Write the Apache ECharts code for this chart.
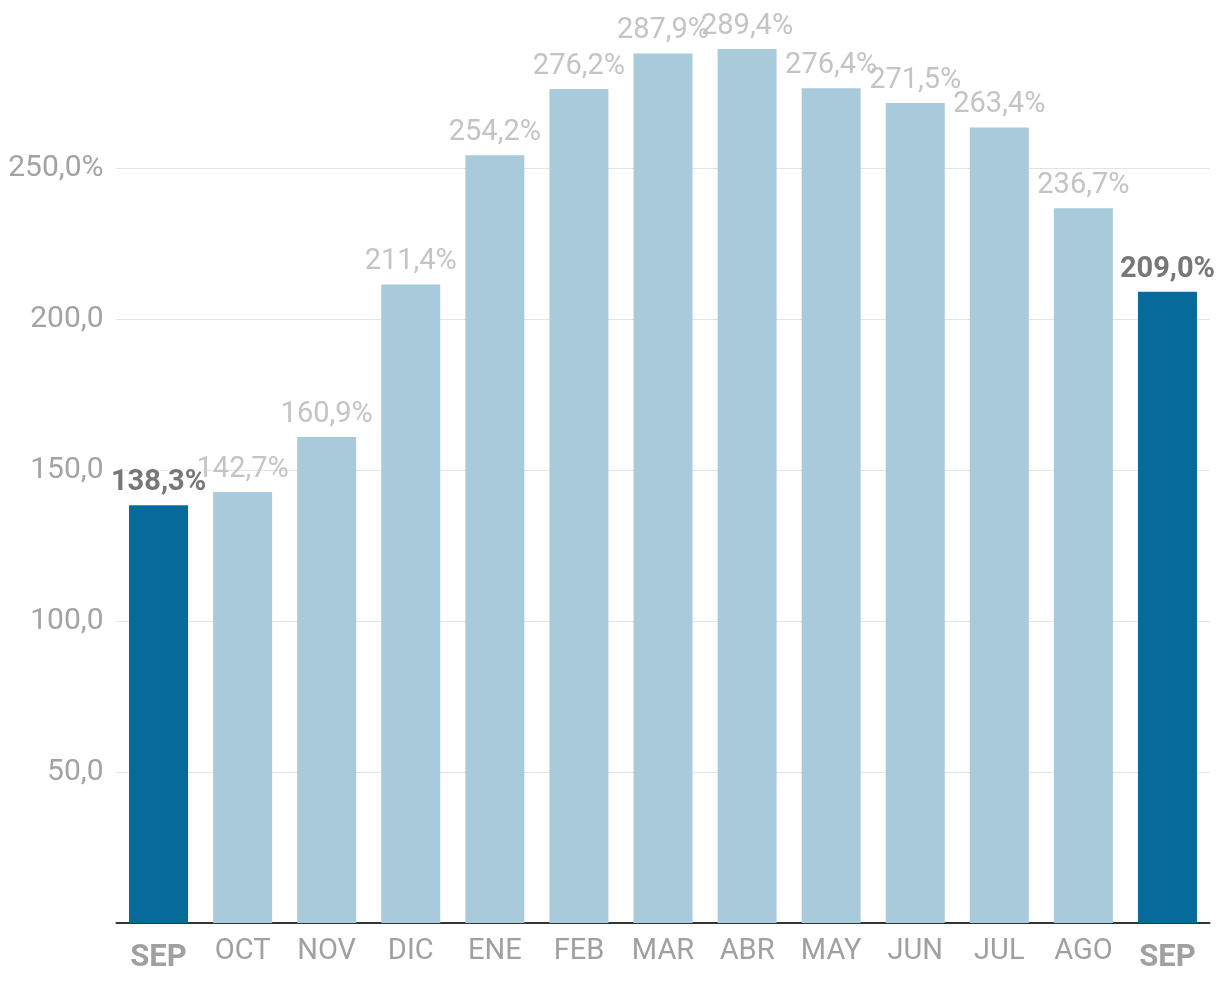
<!DOCTYPE html>
<html>
<head>
<meta charset="utf-8">
<script src="https://cdn.jsdelivr.net/npm/echarts@6/dist/echarts.min.js"></script>
<style>html,body{margin:0;padding:0;background:#fff}#c{width:1220px;height:990px}</style>
</head>
<body>
<div id="c"></div>
<script>
const categories = ['SEP','OCT','NOV','DIC','ENE','FEB','MAR','ABR','MAY','JUN','JUL','AGO','SEP'];
const values = [138.3,142.7,160.9,211.4,254.2,276.2,287.9,289.4,276.4,271.5,263.4,236.7,209.0];
const highlighted = [true,false,false,false,false,false,false,false,false,false,false,false,true];
const yTicks = [0,50,100,150,200,250,300];

const FONT = 'Roboto';
const fmt = v => v.toFixed(1).replace('.', ',');

const data = values.map((v, i) => ({
  value: v,
  itemStyle: { color: highlighted[i] ? '#066a9b' : '#a8cadb' },
  label: highlighted[i]
    ? { color: '#777777', fontWeight: 'bold', textBorderColor: '#ffffff', textBorderWidth: 4,
        offset: [i === values.length - 1 ? -4 : 0, 0] }
    : { color: '#c4c4c4', fontWeight: 'normal', textBorderColor: '#ffffff', textBorderWidth: 0 }
}));

const chart = echarts.init(document.getElementById('c'), null, { renderer: 'canvas' });
chart.setOption({
  animation: false,
  backgroundColor: '#ffffff',
  grid: { left: 116.5, right: 10.5, top: 17, bottom: 67, containLabel: false },
  xAxis: {
    type: 'category',
    data: categories,
    axisLine: { show: true, lineStyle: { color: '#333333', width: 2 } },
    axisTick: { show: false },
    axisLabel: {
      margin: 14,
      fontFamily: FONT,
      fontSize: 29,
      color: '#a0a0a0',
      interval: 0,
      formatter: (v, i) => highlighted[i] ? '{b|' + v + '}' : v,
      rich: { b: { fontFamily: FONT, fontSize: 31, fontWeight: 'bold', color: '#a0a0a0', padding: [6, 0, 0, 0] } }
    }
  },
  yAxis: {
    type: 'value',
    min: yTicks[0],
    max: yTicks[yTicks.length - 1],
    interval: 50,
    axisLine: { show: false },
    axisTick: { show: false },
    splitLine: { show: true, lineStyle: { color: ['#e3e3e3','#e3e3e3','#e3e3e3','#e3e3e3','#e3e3e3','#e3e3e3','rgba(0,0,0,0)'], width: 1 } },
    axisLabel: {
      margin: 13,
      fontFamily: FONT,
      fontSize: 30,
      color: '#a3a3a3',
      formatter: v => {
        if (v === 0 || v === 300) return '';
        return fmt(v) + (v === 250 ? '%' : '');
      }
    }
  },
  series: [{
    type: 'bar',
    data: data,
    barWidth: 59,
    label: {
      show: true,
      position: 'top',
      distance: 8,
      fontFamily: FONT,
      fontSize: 29,
      formatter: p => fmt(p.value) + '%'
    },
    labelLayout: { hideOverlap: false }
  }]
});
</script>
</body>
</html>
